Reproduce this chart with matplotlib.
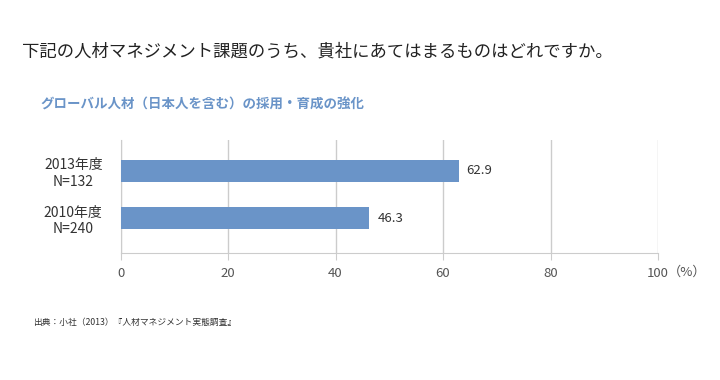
import matplotlib
matplotlib.use("Agg")
import matplotlib.pyplot as plt

plt.rcParams['font.family'] = ['Noto Sans CJK JP', 'DejaVu Sans']

# data
categories = ["2010年度\nN=240", "2013年度\nN=132"]
values = [46.3, 62.9]
xticks = [0, 20, 40, 60, 80, 100]

title = "下記の人材マネジメント課題のうち、貴社にあてはまるものはどれですか。"
subtitle = "グローバル人材（日本人を含む）の採用・育成の強化"
source = "出典：小社（2013）『人材マネジメント実態調査』"

bar_color = "#6a94c8"
grid_color = "#cccccc"

fig = plt.figure(figsize=(7.2, 3.8), dpi=100)
ax = fig.add_axes([0.1674, 0.334, 0.7465, 0.298])

ypos = list(range(len(categories)))
ax.barh(ypos, values, height=0.47, color=bar_color, zorder=3)
for y, v in zip(ypos, values):
    ax.text(v + 1.5, y, f"{v:.1f}", va="center", ha="left", fontsize=9.5, color="#333333")

ax.set_xlim(0, 100)
ax.set_ylim(-0.745, 1.66)
ax.set_yticks(ypos)
ax.set_yticklabels(categories, fontsize=10, color="#333333", linespacing=1.25,
                   ha="center")
ax.tick_params(axis="y", length=0, pad=34)

ax.set_xticks(xticks)
ax.set_xticklabels([str(t) for t in xticks], fontsize=9.5, color="#555555")
ax.tick_params(axis="x", length=5, color=grid_color, pad=5)
fig.text(668 / 720, 1 - 272 / 380, "（%）", fontsize=9.5, color="#555555",
         ha="left", va="center")

ax.grid(axis="x", color=grid_color, linewidth=1, zorder=0)
for s in ["top", "right"]:
    ax.spines[s].set_visible(False)
ax.spines["left"].set_color(grid_color)
ax.spines["bottom"].set_color(grid_color)

fig.text(22 / 720, 1 - 52 / 380, title, fontsize=12.5, color="#222222", va="center", ha="left")
fig.text(40 / 720, 1 - 105 / 380, subtitle, fontsize=9.7, color="#6a94c8", va="center",
         ha="left", fontweight="bold")
fig.text(33 / 720, 1 - 322 / 380, source, fontsize=6.3, color="#333333", va="center", ha="left")

fig.savefig("out.png", dpi=100)
